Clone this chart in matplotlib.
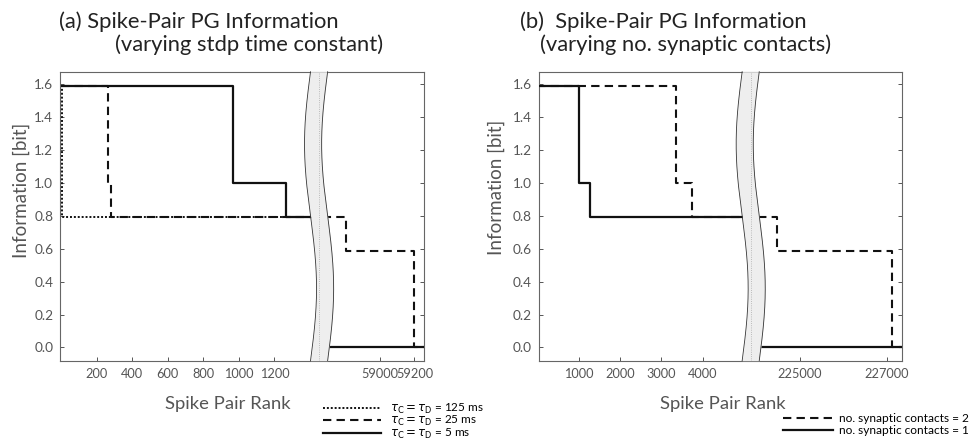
import numpy as np
import matplotlib
matplotlib.use('Agg')
import matplotlib.pyplot as plt

# (a) varying stdp time constant  (rank -> information, step changes)
rank_a_125 = [0, 5, 1480, 59300]
info_a_125 = [1.585, 0.792, 0.0, 0.0]
rank_a_25 = [0, 262, 278, 58800, 59200, 59300]
info_a_25 = [1.585, 1.0, 0.792, 0.585, 0.0, 0.0]
rank_a_5 = [0, 970, 1264, 1470, 59300]
info_a_5 = [1.585, 1.0, 0.792, 0.0, 0.0]

# (b) varying no. synaptic contacts
rank_b_2 = [0, 3356, 3736, 224476, 227130, 227400]
info_b_2 = [1.585, 1.0, 0.792, 0.585, 0.0, 0.0]
rank_b_1 = [0, 1000, 1266, 6000, 227400]
info_b_1 = [1.585, 1.0, 0.792, 0.0, 0.0]

xticks_a = [200, 400, 600, 800, 1000, 1200, 59000, 59200]
xticks_b = [1000, 2000, 3000, 4000, 225000, 227000]
yticks = [0.0, 0.2, 0.4, 0.6, 0.8, 1.0, 1.2, 1.4, 1.6]

labels_a = [r'$\tau_{\mathrm{C}} = \tau_{\mathrm{D}}$ = 125 ms',
            r'$\tau_{\mathrm{C}} = \tau_{\mathrm{D}}$ = 25 ms',
            r'$\tau_{\mathrm{C}} = \tau_{\mathrm{D}}$ = 5 ms']
labels_b = ['no. synaptic contacts = 2', 'no. synaptic contacts = 1']

plt.rcParams['font.family'] = ['Lato', 'DejaVu Sans']

GRAY = '#555555'
INK = '#111111'


def broken_scale(brk, resume, k):
    # everything between brk and resume collapses onto the break
    def fwd(x):
        x = np.asarray(x, dtype=float)
        return np.where(x <= brk, x, np.where(x >= resume, brk + (x - resume) * k, brk))

    def inv(y):
        y = np.asarray(y, dtype=float)
        return np.where(y <= brk, y, resume + (y - brk) / k)
    return fwd, inv


def draw_break(ax, xc):
    t = np.linspace(0, 1, 200)
    amp, half = 0.0165, 0.0235
    mid = xc + amp * np.sin(2 * np.pi * t)
    ax.fill_betweenx(t, mid - half, mid + half, transform=ax.transAxes,
                     color='#eeeeee', zorder=5, clip_on=False, lw=0)
    ax.plot(mid - half, t, transform=ax.transAxes, color='#333333', lw=0.6, zorder=6, clip_on=False)
    ax.plot(mid + half, t, transform=ax.transAxes, color='#333333', lw=0.6, zorder=6, clip_on=False)
    ax.plot([xc, xc], [0, 1], transform=ax.transAxes, color='#aaaaaa', lw=0.6, ls=':', zorder=6)


def style_axes(ax):
    ax.set_ylim(-0.08, 1.673)
    ax.set_yticks(yticks)
    ax.set_yticklabels(['%.1f' % v for v in yticks])
    ax.tick_params(direction='in', length=3, width=0.7, colors=GRAY, labelsize=9.8,
                   right=True, pad=5)
    ax.tick_params(axis='x', labelsize=9.2)
    for s in ax.spines.values():
        s.set_color('#666666')
        s.set_linewidth(0.8)
    ax.minorticks_off()


fig = plt.figure(figsize=(9.74, 4.48), dpi=100)
ax1 = fig.add_axes([0.0619, 0.1949, 0.3737, 0.645])
ax2 = fig.add_axes([0.5531, 0.1949, 0.373, 0.645])

# panel (a)
ax1.set_xscale('function', functions=broken_scale(1452, 58644, 0.966))
ax1.plot(rank_a_5, info_a_5, drawstyle='steps-post', color=INK, lw=1.6, zorder=2)
ax1.plot(rank_a_25, info_a_25, drawstyle='steps-post', color=INK, lw=1.5,
         dashes=(4, 2.5), zorder=3)
ax1.plot(rank_a_125, info_a_125, drawstyle='steps-post', color=INK, lw=1.4,
         ls=(0, (1, 1)), zorder=4)
ax1.set_xlim(-5, 59257)
ax1.set_xticks(xticks_a)
ax1.set_xticklabels([str(v) for v in xticks_a])
style_axes(ax1)
draw_break(ax1, 0.711)

# panel (b)
ax2.set_xscale('function', functions=broken_scale(5165, 223861, 1.048))
ax2.plot(rank_b_1, info_b_1, drawstyle='steps-post', color=INK, lw=1.6, zorder=2)
ax2.plot(rank_b_2, info_b_2, drawstyle='steps-post', color=INK, lw=1.5,
         dashes=(4, 2.5), zorder=3)
ax2.set_xlim(31, 227356)
ax2.set_xticks(xticks_b)
ax2.set_xticklabels([str(v) for v in xticks_b])
style_axes(ax2)
draw_break(ax2, 0.5835)

for ax, lx, ly, xx in [(ax1, -0.083, 0.59, 0.46), (ax2, -0.093, 0.60, 0.506)]:
    ax.set_ylabel('Information [bit]', fontsize=13.5, color=GRAY)
    ax.set_xlabel('Spike Pair Rank', fontsize=13.3, color=GRAY)
    ax.yaxis.set_label_coords(lx, ly)
    ax.xaxis.set_label_coords(xx, -0.122)

# titles
fig.text(59 / 974, 1 - 22 / 448, '(a) Spike-Pair PG Information', fontsize=15.8, va='center', color='#222222')
fig.text(115 / 974, 1 - 45 / 448, '(varying stdp time constant)', fontsize=15.8, va='center', color='#222222')
fig.text(520 / 974, 1 - 22 / 448, '(b)  Spike-Pair PG Information', fontsize=15.8, va='center', color='#222222')
fig.text(540 / 974, 1 - 45 / 448, '(varying no. synaptic contacts)', fontsize=15.8, va='center', color='#222222')

# legends
h_a = [plt.Line2D([], [], color=INK, lw=1.4, ls=(0, (1, 1))),
       plt.Line2D([], [], color=INK, lw=1.5, dashes=(4, 2.5)),
       plt.Line2D([], [], color=INK, lw=1.6)]
leg1 = fig.legend(h_a, labels_a, loc='upper left', bbox_to_anchor=(323 / 974, 1 - 402 / 448),
                  frameon=False, fontsize=8.5, handlelength=4.9, handletextpad=0.75,
                  labelspacing=-0.15, borderpad=0, borderaxespad=0)
h_b = [plt.Line2D([], [], color=INK, lw=1.5, dashes=(4, 2.5)),
       plt.Line2D([], [], color=INK, lw=1.6)]
leg2 = fig.legend(h_b, labels_b, loc='upper left', bbox_to_anchor=(783 / 974, 1 - 413 / 448),
                  frameon=False, fontsize=8.6, handlelength=4.2, handletextpad=0.45,
                  labelspacing=0.12, borderpad=0, borderaxespad=0)

fig.savefig('out.png', dpi=100)
